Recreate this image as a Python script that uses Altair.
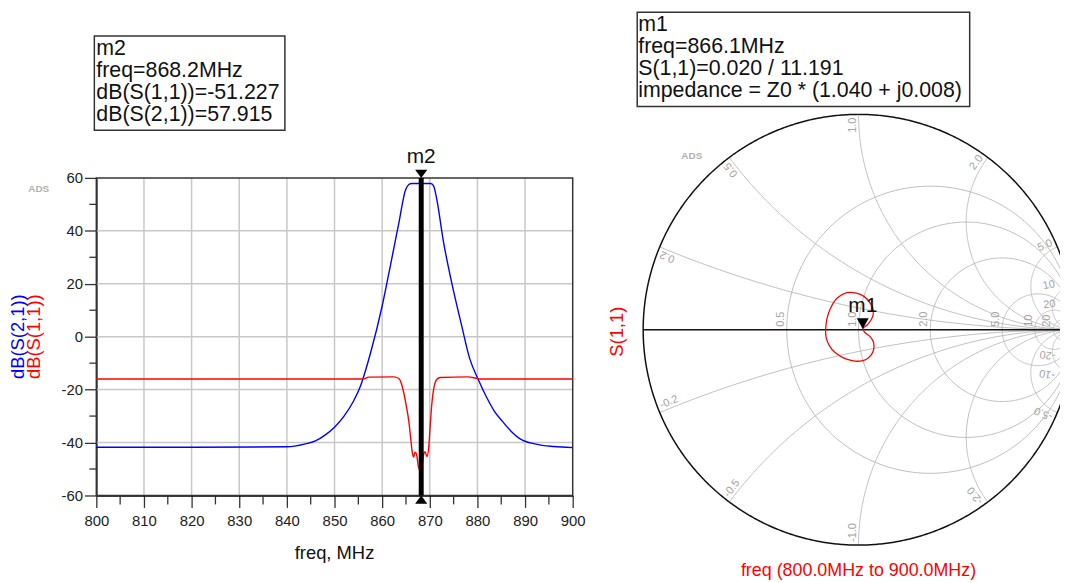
import numpy as np
import pandas as pd
import altair as alt

FONT = "Liberation Sans"
W, H = 1060, 575

# ---------------- data : left plot (dB vs freq, MHz) ----------------
s21_freq = [800, 820, 840, 843.7, 846, 848, 850, 852, 854, 855.5, 857.6,
            860, 861.7, 863.5, 864.9, 865.6, 866.2, 868.2, 870.2, 870.8, 871.5,
            872.8, 874.6, 876.7, 878.4, 880.1, 881.9, 883.5, 885.3, 887, 888.8,
            892.3, 896, 900]
s21_db = [-41.8, -41.8, -41.6, -40.6, -39.4, -37.2, -34.2, -30.0, -24.3, -18.4, -5.9,
          11.6, 26.6, 42.9, 55.4, 57.5, 57.9, 57.9, 57.9, 57.0, 51.6,
          36.6, 20.4, 4.1, -8.4, -15.9, -22.8, -28.0, -32.1, -35.6, -38.4,
          -40.6, -41.5, -41.9]

s11_freq = [800, 856.0, 857.2, 862.5, 863.5, 864.0, 864.5, 865.0, 865.6, 866.0,
            866.3, 866.6, 866.9, 867.2, 867.6, 868.2, 868.7, 869.0, 869.4, 869.8,
            870.0, 870.4, 870.9, 871.5, 872.2, 878.0, 879.5, 880.5, 900]
s11_db = [-16.0, -16.0, -15.3, -15.2, -15.8, -17.5, -20.9, -25.5, -32.0, -38.5,
          -43.4, -45.5, -43.6, -44.3, -49.0, -51.2, -44.5, -43.5, -45.3, -41.5,
          -36.0, -26.0, -19.0, -16.1, -15.4, -15.2, -15.6, -16.0, -16.0]

x_dom = [800, 900]
y_dom = [-60, 60]
x_major = list(range(800, 901, 10))
x_minor = list(range(805, 900, 10))
y_major = list(range(-60, 61, 20))
y_minor = list(range(-50, 51, 20))
x_grid = list(range(810, 900, 10))
y_grid = [-40, -20, 0, 20, 40]

m2_freq = 868.2
m2_s11 = -51.227
m2_s21 = 57.915

# ---------------- data : Smith chart ----------------
m1_freq = 866.1
m1_mag = 0.020
m1_ang = 11.191
m1_zr, m1_zi = 1.040, 0.008

gam_re = [-0.153, -0.146, -0.130, -0.100, -0.054, -0.010, 0.025, 0.050, 0.066, 0.068,
          0.058, 0.040, 0.020, 0.032, 0.055, 0.070, 0.070, 0.058, 0.035, 0.005,
          -0.035, -0.075, -0.110, -0.135, -0.150, -0.153]
gam_im = [0.000, 0.054, 0.100, 0.146, 0.172, 0.170, 0.155, 0.130, 0.100, 0.070,
          0.045, 0.022, 0.004, -0.015, -0.033, -0.060, -0.092, -0.118, -0.138, -0.146,
          -0.142, -0.128, -0.105, -0.075, -0.038, 0.000]

r_circles = [0.5, 1.0, 2.0, 5.0, 10.0, 20.0]
r_labels = ["0.5", "1.0", "2.0", "5.0", "10", "20"]
x_arcs = [0.2, 0.5, 1.0, 2.0, 5.0, 10.0, 20.0]
x_labels = ["0.2", "0.5", "1.0", "2.0", "5.0", "10", "20"]

# ---------------- scales (pixel ranges inside the page) ----------------
fx = alt.Scale(domain=x_dom, range=[89, 569], nice=False, zero=False)
fy = alt.Scale(domain=y_dom, range=[489, 169], nice=False, zero=False)
gx = alt.Scale(domain=[-1, 1], range=[640, 1074], nice=False, zero=False)
gy = alt.Scale(domain=[-1, 1], range=[539, 105], nice=False, zero=False)

x_axis = alt.Axis(values=x_major, labelExpr="toString(datum.value)", tickSize=12,
                  grid=False, title=None, offset=489 - H, domainColor="#000", domainWidth=1.5,
                  tickColor="#333", tickWidth=1.3, labelFont=FONT, labelFontSize=15,
                  labelColor="#222", labelPadding=6, labelOverlap=False, labelFlush=False)
y_axis = alt.Axis(values=y_major, labelExpr="toString(datum.value)", tickSize=12,
                  grid=False, title=None, offset=-89, domainColor="#000", domainWidth=1.5,
                  tickColor="#333", tickWidth=1.3, labelFont=FONT, labelFontSize=15,
                  labelColor="#222", labelPadding=2, labelOverlap=False, labelFlush=False)

# ---------------- left panel ----------------
s21 = pd.DataFrame({"f": s21_freq, "v": s21_db})
s11 = pd.DataFrame({"f": s11_freq, "v": s11_db})

vgrid = alt.Chart(pd.DataFrame({"f": x_grid, "y0": y_dom[0], "y1": y_dom[1]})).mark_rule(
    color="#c8c8c8", strokeWidth=1.5).encode(
    x=alt.X("f:Q", scale=fx, axis=x_axis), y=alt.Y("y0:Q", scale=fy, axis=y_axis), y2="y1:Q")
hgrid = alt.Chart(pd.DataFrame({"v": y_grid, "x0": x_dom[0], "x1": x_dom[1]})).mark_rule(
    color="#c8c8c8", strokeWidth=1.5).encode(
    y=alt.Y("v:Q", scale=fy), x=alt.X("x0:Q", scale=fx), x2="x1:Q")
frame = alt.Chart(pd.DataFrame({"x0": [x_dom[0]], "x1": [x_dom[1]], "y0": [y_dom[0]], "y1": [y_dom[1]]})).mark_rect(
    filled=False, stroke="#333", strokeWidth=1.5).encode(
    x=alt.X("x0:Q", scale=fx), x2="x1:Q", y=alt.Y("y0:Q", scale=fy), y2="y1:Q")
xminor = alt.Chart(pd.DataFrame({"f": x_minor, "y0": y_dom[0]})).mark_rule(
    color="#333", strokeWidth=1.3).encode(
    x=alt.X("f:Q", scale=fx), y=alt.Y("y0:Q", scale=fy), y2=alt.value(498))
yminor = alt.Chart(pd.DataFrame({"v": y_minor, "x0": x_dom[0]})).mark_rule(
    color="#333", strokeWidth=1.3).encode(
    y=alt.Y("v:Q", scale=fy), x=alt.X("x0:Q", scale=fx), x2=alt.value(82))

blue = alt.Chart(s21).mark_line(color="#0000ff", strokeWidth=1.4, interpolate="monotone").encode(
    x=alt.X("f:Q", scale=fx), y=alt.Y("v:Q", scale=fy))
red = alt.Chart(s11).mark_line(color="#ff0000", strokeWidth=1.4, interpolate="monotone").encode(
    x=alt.X("f:Q", scale=fx), y=alt.Y("v:Q", scale=fy))

mk_rule = alt.Chart(pd.DataFrame({"f": [m2_freq], "y0": [y_dom[0]], "y1": [y_dom[1]]})).mark_rule(
    color="black", strokeWidth=5).encode(
    x=alt.X("f:Q", scale=fx), y=alt.Y("y0:Q", scale=fy), y2="y1:Q")
TRI_DOWN = "M-1,-1.35L1,-1.35L0,0Z"
TRI_UP = "M-1,1.35L1,1.35L0,0Z"
mk_tri = alt.Chart(pd.DataFrame({"f": [m2_freq, m2_freq], "v": [y_dom[1], y_dom[0]],
                                 "s": [TRI_DOWN, TRI_UP]})).mark_point(
    filled=True, size=150, color="black", opacity=1).encode(
    x=alt.X("f:Q", scale=fx), y=alt.Y("v:Q", scale=fy),
    shape=alt.Shape("s:N", scale=None))
mk_lab = alt.Chart(pd.DataFrame({"f": [m2_freq], "v": [y_dom[1]], "t": ["m2"]})).mark_text(
    font=FONT, fontSize=21, color="#111", baseline="alphabetic", dy=-15).encode(
    x=alt.X("f:Q", scale=fx), y=alt.Y("v:Q", scale=fy), text="t:N")

left = alt.layer(vgrid, hgrid, frame, xminor, yminor, blue, red, mk_rule, mk_tri, mk_lab)

# ---------------- Smith chart ----------------
rows = []
gid = 0
for r in r_circles:
    c, rad = r / (1 + r), 1 / (1 + r)
    t = np.linspace(0, 2 * np.pi, 361)
    for i, tt in enumerate(t):
        rows.append((gid, i, c + rad * np.cos(tt), rad * np.sin(tt)))
    gid += 1
for xv in x_arcs:
    ge = (1j * xv - 1) / (1j * xv + 1)
    a1 = np.arctan2(ge.imag - 1 / xv, ge.real - 1) % (2 * np.pi)
    a = np.linspace(1.5 * np.pi, a1, 240)
    re = 1 + np.cos(a) / xv
    im = 1 / xv + np.sin(a) / xv
    for sign in (1, -1):
        for i in range(len(a)):
            rows.append((gid, i, re[i], sign * im[i]))
        gid += 1
grid_df = pd.DataFrame(rows, columns=["g", "i", "re", "im"])

tt = np.linspace(0, 2 * np.pi, 721)
outer_df = pd.DataFrame({"i": np.arange(len(tt)), "re": np.cos(tt), "im": np.sin(tt)})

GRID_C = "#bcbcbc"
LAB_C = "#a3a3a3"

sgrid = alt.Chart(grid_df).mark_line(color=GRID_C, strokeWidth=1).encode(
    x=alt.X("re:Q", scale=gx, axis=None), y=alt.Y("im:Q", scale=gy, axis=None),
    detail="g:N", order="i:Q")
souter = alt.Chart(outer_df).mark_line(color="#111", strokeWidth=1.5).encode(
    x=alt.X("re:Q", scale=gx, axis=None), y=alt.Y("im:Q", scale=gy, axis=None), order="i:Q")
saxis = alt.Chart(pd.DataFrame({"x0": [-1.0], "x1": [1.0], "y": [0.0]})).mark_rule(
    color="#111", strokeWidth=1.5).encode(
    x=alt.X("x0:Q", scale=gx, axis=None), x2="x1:Q", y=alt.Y("y:Q", scale=gy, axis=None))

RE_MAX = 0.917  # keep edge labels inside the visible window
up_rows, dn_rows = [], []
for xv, lab in zip(x_arcs, x_labels):
    ge = (1j * xv - 1) / (1j * xv + 1)
    th = np.degrees(np.arctan2(ge.imag, ge.real))
    k = min(0.985, RE_MAX / ge.real) if ge.real > 0 else 0.985
    p = ge * k
    up_rows.append({"re": p.real, "im": p.imag, "t": lab, "a": (-th) % 360})
    dn_rows.append({"re": p.real, "im": -p.imag, "t": "-" + lab, "a": (th + 180) % 360})
lab_up = alt.Chart(pd.DataFrame(up_rows)).mark_text(
    font=FONT, fontSize=11, color=LAB_C, align="right", baseline="bottom", dy=-1).encode(
    x=alt.X("re:Q", scale=gx, axis=None), y=alt.Y("im:Q", scale=gy, axis=None),
    text="t:N", angle=alt.Angle("a:Q", scale=None))
lab_dn = alt.Chart(pd.DataFrame(dn_rows)).mark_text(
    font=FONT, fontSize=11, color=LAB_C, align="left", baseline="bottom", dy=-1).encode(
    x=alt.X("re:Q", scale=gx, axis=None), y=alt.Y("im:Q", scale=gy, axis=None),
    text="t:N", angle=alt.Angle("a:Q", scale=None))
r_df = pd.DataFrame({"re": [(r - 1) / (r + 1) for r in r_circles], "im": 0.0, "t": r_labels})
lab_r = alt.Chart(r_df).mark_text(
    font=FONT, fontSize=11, color=LAB_C, align="left", baseline="bottom", angle=270, dx=3, dy=-1).encode(
    x=alt.X("re:Q", scale=gx, axis=None), y=alt.Y("im:Q", scale=gy, axis=None), text="t:N")

trace = alt.Chart(pd.DataFrame({"i": range(len(gam_re)), "re": gam_re, "im": gam_im})).mark_line(
    color="#ff0000", strokeWidth=1.3, interpolate="catmull-rom").encode(
    x=alt.X("re:Q", scale=gx, axis=None), y=alt.Y("im:Q", scale=gy, axis=None), order="i:Q")

m1_re = m1_mag * np.cos(np.radians(m1_ang))
m1_im = m1_mag * np.sin(np.radians(m1_ang))
m1_tri = alt.Chart(pd.DataFrame({"re": [m1_re], "im": [m1_im]})).mark_point(
    filled=True, size=144, color="black", opacity=1, shape="M-1,-1.8L1,-1.8L0,0Z").encode(
    x=alt.X("re:Q", scale=gx, axis=None), y=alt.Y("im:Q", scale=gy, axis=None))
m1_lab = alt.Chart(pd.DataFrame({"re": [m1_re], "im": [m1_im], "t": ["m1"]})).mark_text(
    font=FONT, fontSize=21, color="#111", baseline="alphabetic", dy=-17).encode(
    x=alt.X("re:Q", scale=gx, axis=None), y=alt.Y("im:Q", scale=gy, axis=None), text="t:N")

smith = alt.layer(sgrid, souter, saxis, lab_up, lab_dn, lab_r, trace, m1_tri, m1_lab)


# ---------------- annotations / titles ----------------
def txt(t, x, y, **kw):
    return alt.Chart(pd.DataFrame({"t": [t]})).mark_text(font=FONT, **kw).encode(
        x=alt.value(x), y=alt.value(y), text="t:N")


def box(x0, y0, x1, y1):
    return alt.Chart(pd.DataFrame({"a": [0]})).mark_rect(
        filled=False, stroke="#333", strokeWidth=1.5).encode(
        x=alt.value(x0), x2=alt.value(x1), y=alt.value(y0), y2=alt.value(y1))


m2_text = (f"m2\nfreq={m2_freq:.1f}MHz\ndB(S(1,1))={m2_s11:.3f}\ndB(S(2,1))={m2_s21:.3f}")
m1_text = (f"m1\nfreq={m1_freq:.1f}MHz\nS(1,1)={m1_mag:.3f} / {m1_ang:.3f}\n"
           f"impedance = Z0 * ({m1_zr:.3f} + j{m1_zi:.3f})")

deco = [
    box(87, 26, 279, 121),
    txt(m2_text, 89, 28, align="left", baseline="top", lineBreak="\n", fontSize=21.5, lineHeight=22.3, color="#111"),
    box(634, 2, 969, 97),
    txt(m1_text, 635, 4, align="left", baseline="top", lineBreak="\n", fontSize=21.5, lineHeight=22.3, color="#111"),
    txt("ADS", 31, 180, align="center", baseline="middle", fontSize=10, fontWeight="bold", color="#b0b0b0"),
    txt("ADS", 689, 147, align="center", baseline="middle", fontSize=10, fontWeight="bold", color="#b0b0b0"),
    txt("dB(S(2,1))", 10, 329, align="center", baseline="middle", angle=270, fontSize=18.5, color="#0000ff"),
    txt("dB(S(1,1))", 26, 329, align="center", baseline="middle", angle=270, fontSize=18.5, color="#ff0000"),
    txt("freq, MHz", 329, 547, align="center", baseline="middle", fontSize=18.5, color="#111"),
    txt("S(1,1)", 614, 324, align="center", baseline="middle", angle=270, fontSize=18.5, color="#ff0000"),
    txt("freq (800.0MHz to 900.0MHz)", 857, 565, align="center", baseline="middle", fontSize=18, color="#ff0000"),
]

chart = alt.layer(left, smith, *deco).resolve_scale(
    x="independent", y="independent").properties(
    width=W, height=H, padding=0, autosize=alt.AutoSizeParams(type="none")).configure_view(strokeWidth=0)

chart.save("out.html", embed_options={"renderer": "svg", "actions": False})
